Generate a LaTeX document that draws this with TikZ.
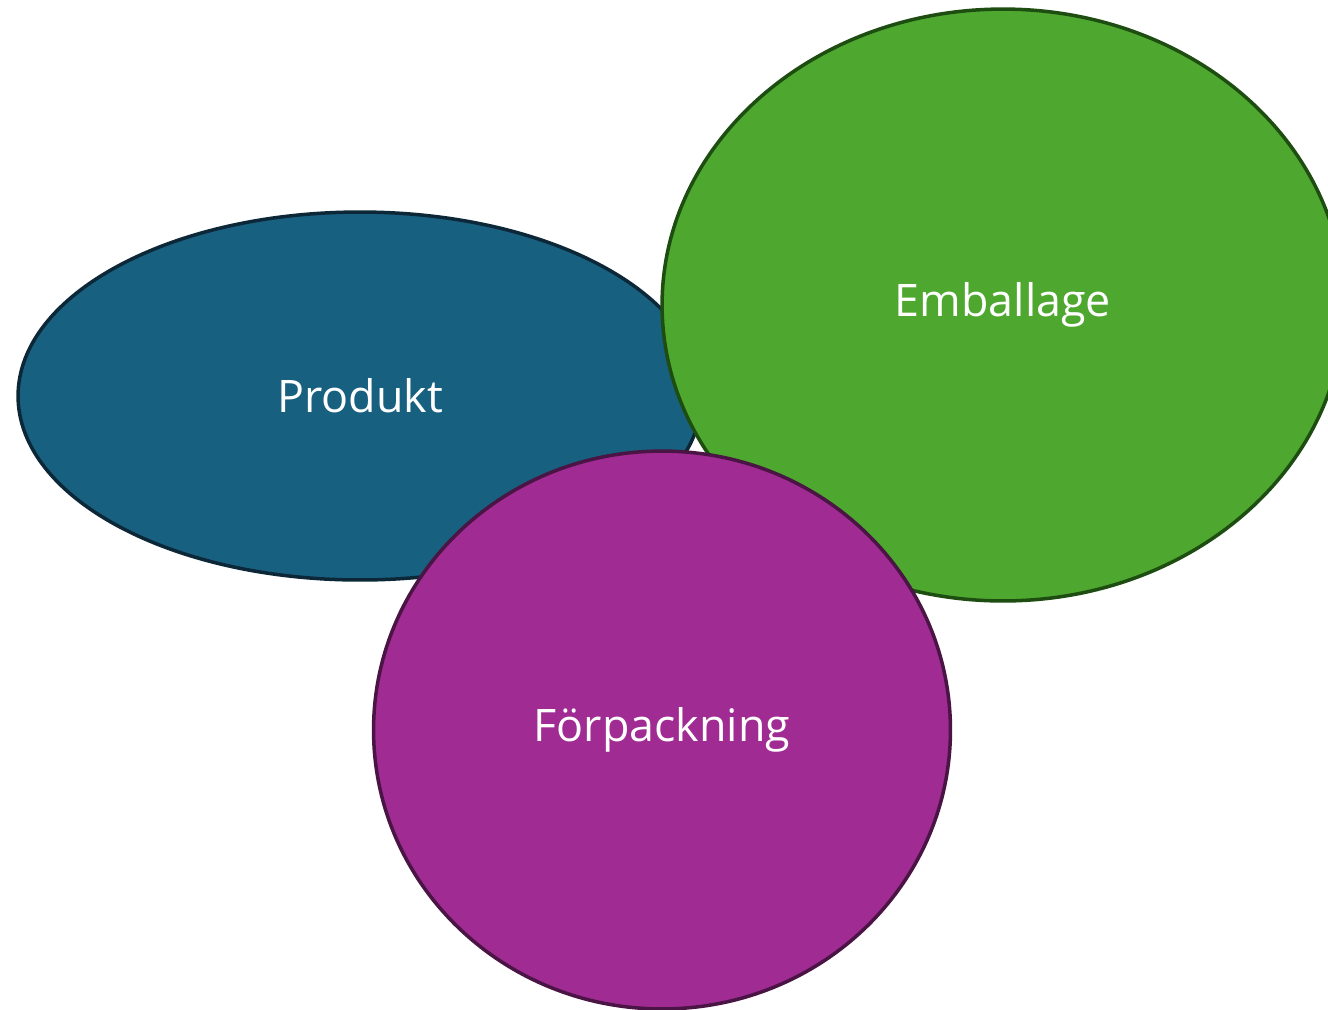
\documentclass[tikz,border=0pt]{standalone}
\usepackage{fontspec}
\setmainfont{Open Sans}
\usetikzlibrary{shapes.geometric}

\definecolor{produktblue}{RGB}{24,96,128}
\definecolor{produktline}{RGB}{12,40,56}
\definecolor{emballagegreen}{RGB}{78,167,46}
\definecolor{emballageline}{RGB}{30,77,18}
\definecolor{forpurple}{RGB}{160,43,147}
\definecolor{forline}{RGB}{74,20,68}

\tikzset{x=0.02cm, y=-0.02cm,
  blob/.style={ellipse, draw, line width=2pt, text=white, inner sep=0pt,
    font=\fontsize{25.5}{30}\selectfont}}

\begin{document}
\begin{tikzpicture}
  \useasboundingbox (0,0) rectangle (1328,1009);
  \clip (0,0) rectangle (1328,1009);
  \node (produkt) [blob, fill=produktblue, draw=produktline,
    minimum width=13.68cm, minimum height=7.36cm] at (360,396) {Produkt};
  \node (emballage) [blob, fill=emballagegreen, draw=emballageline,
    minimum width=13.64cm, minimum height=11.84cm] at (1003,305) {Emballage};
  \node (forpackning) [blob, fill=forpurple, draw=forline,
    minimum width=11.54cm, minimum height=11.16cm] at (662,730) {Förpackning};
\end{tikzpicture}
\end{document}
